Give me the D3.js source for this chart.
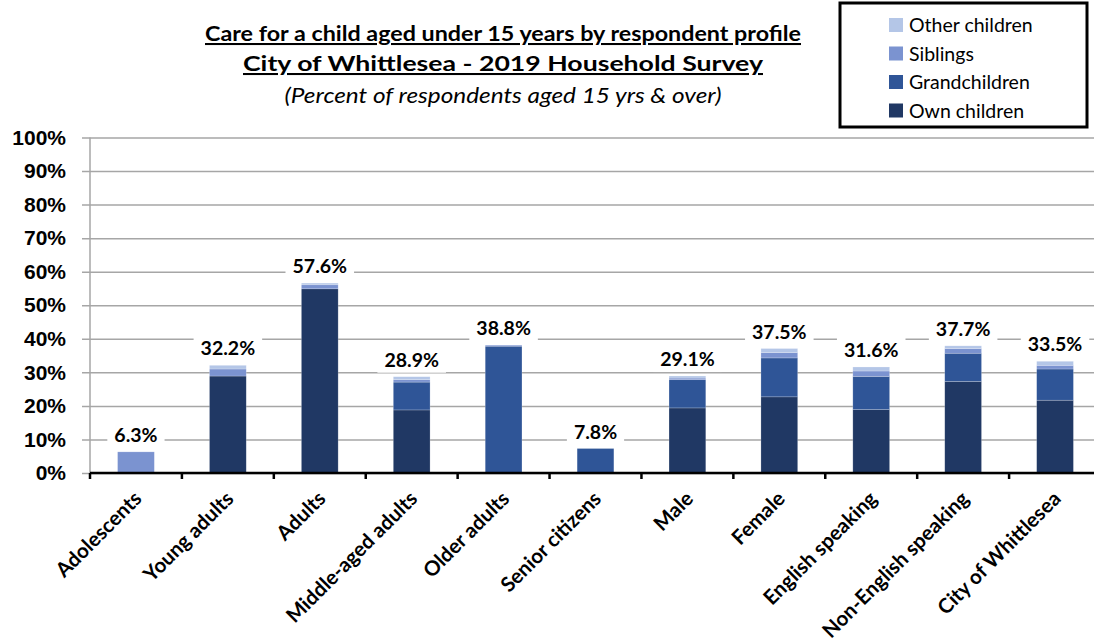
<!DOCTYPE html>
<html>
<head>
<meta charset="utf-8">
<script src="https://cdn.jsdelivr.net/npm/d3@7"></script>
<style>
  body { margin: 0; background: #fff; }
  svg { font-family: Lato, "Open Sans", sans-serif; }
</style>
</head>
<body>
<div id="chart"></div>
<script>
// categories and stacked series (percent of respondents)
var categories = ["Adolescents", "Young adults", "Adults", "Middle-aged adults", "Older adults",
    "Senior citizens", "Male", "Female", "English speaking", "Non-English speaking", "City of Whittlesea"];
var ownChildren   = [0, 28.9, 54.9, 18.8, 0, 0, 19.4, 22.7, 18.9, 27.3, 21.7];
var grandchildren = [0, 0, 0, 8.3, 37.8, 7.3, 8.4, 11.6, 9.9, 8.4, 9.3];
var siblings      = [6.3, 2.1, 1.2, 0.7, 0.3, 0, 0.5, 1.6, 1.6, 1.4, 1.1];
var otherChildren = [0, 1.1, 0.5, 0.9, 0, 0, 0.6, 1.2, 1.2, 0.8, 1.2];
var totalLabels = ["6.3%", "32.2%", "57.6%", "28.9%", "38.8%", "7.8%", "29.1%", "37.5%", "31.6%", "37.7%", "33.5%"];
var yTicks = [0, 10, 20, 30, 40, 50, 60, 70, 80, 90, 100];

var seriesNames = ["Own children", "Grandchildren", "Siblings", "Other children"];
var colors = ["#203864", "#2f5597", "#7b93d0", "#b4c6e7"];

var width = 1094, height = 642;

var rows = categories.map(function(c, i) {
    return {
        cat: c,
        "Own children": ownChildren[i],
        "Grandchildren": grandchildren[i],
        "Siblings": siblings[i],
        "Other children": otherChildren[i]
    };
});

var svg = d3.select("#chart").append("svg")
    .attr("width", width)
    .attr("height", height);

var x = d3.scaleBand().domain(categories).range([90, 1101]).padding(0),
    y = d3.scaleLinear().domain([0, 100]).range([473, 137.5]),
    color = d3.scaleOrdinal().domain(seriesNames).range(colors);

// gridlines + y labels
var yAxis = svg.append("g")
    .attr("transform", "translate(82,0)")
    .call(d3.axisLeft(y).tickValues(yTicks).tickSize(-(1101 - 82)).tickPadding(16)
        .tickFormat(function(d) { return d + "%"; }));
yAxis.select(".domain").remove();
yAxis.selectAll("line").attr("stroke", "#a6a6a6").attr("stroke-width", 1.5);
yAxis.selectAll("text")
    .attr("fill", "#000")
    .style("font-size", "21px")
    .style("font-weight", "bold");

// vertical axis line
svg.append("line")
    .attr("x1", 90).attr("x2", 90)
    .attr("y1", y(100)).attr("y2", y(0))
    .attr("stroke", "#a6a6a6").attr("stroke-width", 1.5);

// stacked bars
var stacked = d3.stack().keys(seriesNames)(rows);
var bw = x.bandwidth() * 0.4;

svg.append("g").selectAll("g")
    .data(stacked)
    .join("g")
    .attr("fill", function(d) { return color(d.key); })
    .selectAll("rect")
    .data(function(d) { return d; })
    .join("rect")
    .attr("x", function(d) { return x(d.data.cat) + (x.bandwidth() - bw) / 2; })
    .attr("width", bw)
    .attr("y", function(d) { return y(d[1]); })
    .attr("height", function(d) { return y(d[0]) - y(d[1]); })
    .attr("stroke", "#fff")
    .attr("stroke-opacity", 0.35)
    .attr("stroke-width", 0.6);

// total labels with white boxes
var topLayer = stacked[stacked.length - 1];
var labels = svg.append("g").selectAll("g")
    .data(categories)
    .join("g")
    .attr("transform", function(d, i) {
        return "translate(" + (x(d) + x.bandwidth() / 2) + "," + (y(topLayer[i][1]) - 17) + ")";
    });

labels.append("rect").attr("fill", "#fff");
labels.append("text")
    .attr("text-anchor", "middle")
    .attr("dy", "0.36em")
    .style("font-size", "19.5px")
    .style("font-weight", "bold")
    .text(function(d, i) { return totalLabels[i]; });

labels.each(function() {
    var g = d3.select(this),
        w = g.select("text").node().getComputedTextLength() + 14;
    g.select("rect").attr("x", -w / 2).attr("y", -13).attr("width", w).attr("height", 26);
});

// x axis
svg.append("line")
    .attr("x1", 90).attr("x2", 1101)
    .attr("y1", y(0)).attr("y2", y(0))
    .attr("stroke", "#000").attr("stroke-width", 2.5);

svg.append("g").selectAll("line")
    .data(categories.concat([null]))
    .join("line")
    .attr("x1", function(d, i) { return x.range()[0] + i * x.step(); })
    .attr("x2", function(d, i) { return x.range()[0] + i * x.step(); })
    .attr("y1", y(0)).attr("y2", y(0) + 6)
    .attr("stroke", "#000").attr("stroke-width", 2.5);

svg.append("g").selectAll("text")
    .data(categories)
    .join("text")
    .attr("text-anchor", "end")
    .attr("transform", function(d) {
        return "translate(" + (x(d) + x.bandwidth() / 2 + 7) + "," + (y(0) + 27) + ") rotate(-45)";
    })
    .style("font-size", "20.5px")
    .style("font-weight", "bold")
    .text(function(d) { return d; });

// title
var titles = [
    { t: "Care for a child aged under 15 years by respondent profile", y: 41, w: 596, bold: true },
    { t: "City of Whittlesea - 2019 Household Survey", y: 71, w: 520, bold: true },
    { t: "(Percent of respondents aged 15 yrs & over)", y: 103, w: 437, bold: false }
];
svg.append("g").selectAll("text")
    .data(titles)
    .join("text")
    .attr("x", 503)
    .attr("y", function(d) { return d.y; })
    .attr("text-anchor", "middle")
    .attr("textLength", function(d) { return d.w; })
    .attr("lengthAdjust", "spacingAndGlyphs")
    .style("font-size", "20.5px")
    .style("font-weight", function(d) { return d.bold ? "bold" : "normal"; })
    .style("font-style", function(d) { return d.bold ? "normal" : "italic"; })
    .style("text-decoration", function(d) { return d.bold ? "underline" : "none"; })
    .text(function(d) { return d.t; });

// legend
var legend = svg.append("g");
legend.append("rect")
    .attr("x", 840).attr("y", 3)
    .attr("width", 247).attr("height", 124)
    .attr("fill", "#fff")
    .attr("stroke", "#000").attr("stroke-width", 3);

var legendItems = legend.selectAll("g")
    .data(seriesNames.slice().reverse())
    .join("g")
    .attr("transform", function(d, i) { return "translate(889," + (25 + i * 28.5) + ")"; });

legendItems.append("rect")
    .attr("x", 0).attr("y", -7)
    .attr("width", 14).attr("height", 14)
    .attr("fill", function(d) { return color(d); });

legendItems.append("text")
    .attr("x", 20)
    .attr("dy", "0.36em")
    .style("font-size", "19.5px")
    .text(function(d) { return d; });
</script>
</body>
</html>
